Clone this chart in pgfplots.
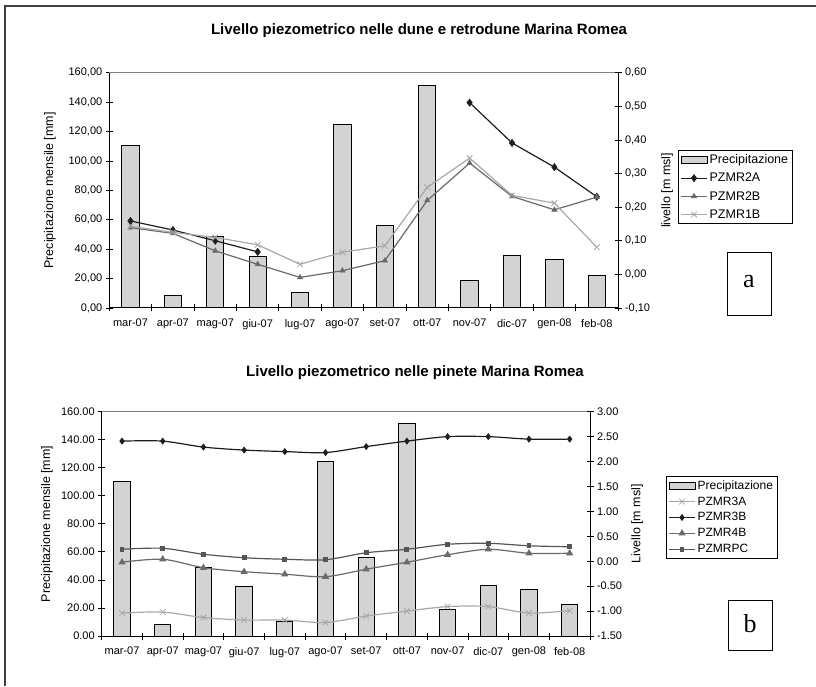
\documentclass[border=0pt]{standalone}
\usepackage{pgfplots}
\pgfplotsset{compat=1.18}
\usepackage{pgfplotstable}
\usepackage{fontspec}
\setmainfont{Liberation Sans}
\newfontfamily\serifletter{Liberation Serif}

\definecolor{barfill}{HTML}{D3D3D3}
\definecolor{lgray}{HTML}{A8A8A8}
\definecolor{mgray}{HTML}{6A6A6A}
\definecolor{dgray}{HTML}{1E1E1E}
\definecolor{pcgray}{HTML}{555555}

\pgfplotstableread{
x prec a2A a2B a1B
0 110.2 0.159 0.139 0.143
1 8.4 0.132 0.122 0.125
2 48.7 0.100 0.070 0.110
3 35.1 0.067 0.030 0.088
4 10.2 nan -0.009 0.030
5 124.5 nan 0.011 0.066
6 55.9 nan 0.041 0.085
7 151.6 nan 0.220 0.259
8 19.0 0.511 0.331 0.346
9 36.0 0.391 0.232 0.235
10 33.3 0.319 0.192 0.212
11 22.4 0.231 0.230 0.081
}\topdata

\pgfplotstableread{
x prec b3A b3B b4B bPC
0 110.2 -1.04 2.41 -0.02 0.24
1 8.4 -1.02 2.41 0.04 0.26
2 48.7 -1.13 2.29 -0.13 0.14
3 35.1 -1.18 2.23 -0.21 0.07
4 10.2 -1.18 2.20 -0.26 0.04
5 124.5 -1.23 2.18 -0.31 0.03
6 55.9 -1.10 2.30 -0.16 0.17
7 151.6 -1.00 2.41 -0.02 0.24
8 19.0 -0.91 2.50 0.13 0.34
9 36.0 -0.91 2.50 0.24 0.36
10 33.3 -1.04 2.45 0.16 0.31
11 22.4 -0.99 2.45 0.16 0.29
}\botdata

\pgfplotsset{
  base/.style={scale only axis, xmin=-0.5, xmax=11.5, clip=false,
    tick align=center, major tick length=7pt, minor tick length=7pt,
    tick style={black, line width=0.8pt},
    axis line style={black, line width=1pt},
    ticklabel style={font=\fontsize{11}{13}\selectfont},
    label style={font=\fontsize{12.5}{14}\selectfont},
    /pgf/number format/assume math mode=true},
  prim/.style={base, axis x line*=bottom, axis y line*=left,
    xtick={0,...,11},
    xticklabels={mar-07,apr-07,mag-07,giu-07,lug-07,ago-07,set-07,ott-07,nov-07,dic-07,gen-08,feb-08},
    xticklabel style={yshift=-4pt},
    major x tick style={draw=none},
    minor xtick={-0.5,0.5,...,11.5}},
  sec/.style={base, axis x line=none, axis y line*=right, unbounded coords=jump,
    legend cell align=left,
    legend image code/.code={\draw[mark repeat=2,mark phase=2] plot coordinates {(0pt,0pt) (13pt,0pt) (26pt,0pt)};}},
  barleg/.style={legend image code/.code={\draw[fill=barfill, draw=black, line width=1pt] (0pt,-3.5pt) rectangle (26pt,3.5pt);}},
}

\begin{document}
\begin{tikzpicture}
\useasboundingbox (0,0) rectangle (816pt,686pt);
\draw[line width=2pt, black!75] (5pt,0pt) -- (5pt,680pt) -- (816pt,680pt);

% ---------------- top chart ----------------
\node[font=\bfseries\fontsize{15}{17}\selectfont] at (419pt,655pt) {Livello piezometrico nelle dune e retrodune Marina Romea};

\begin{axis}[prim, at={(109.3pt,378pt)}, anchor=south west, width=508.7pt, height=235.3pt,
  ymin=0, ymax=160, ytick={0,20,...,160},
  yticklabel style={/pgf/number format/.cd, fixed, fixed zerofill, precision=2, use comma},
  ylabel={Precipitazione mensile [mm]},
  ylabel style={at={(axis description cs:-0.1166,0.5)}, anchor=center}]
  \addplot[ybar, bar width=17.3pt, fill=barfill, draw=black, line width=1pt] table[x=x,y=prec]{\topdata};
  \draw[gray, line width=0.8pt] (axis cs:-0.5,160) -- (axis cs:11.5,160);
\end{axis}

\begin{axis}[sec, at={(109.3pt,378pt)}, anchor=south west, width=508.7pt, height=235.3pt,
  ymin=-0.1, ymax=0.6, ytick={-0.1,0,0.1,0.2,0.3,0.4,0.5,0.6},
  yticklabel style={/pgf/number format/.cd, fixed, fixed zerofill, precision=2, use comma},
  ylabel={livello [m msl]},
  ylabel style={at={(axis description cs:1.0964,0.5)}, anchor=center},
  legend style={at={(axis description cs:1.118,0.671)}, anchor=north west, draw=black, line width=0.8pt,
    font=\fontsize{12.5}{14}\selectfont, row sep=4pt, inner sep=2pt}]
  \addlegendimage{barleg}
  \addlegendentry{Precipitazione}
  \addplot[dgray, line width=1.2pt, mark=diamond*, mark size=3.6pt, mark options={fill=dgray, line width=0.6pt}] table[x=x,y=a2A]{\topdata};
  \addlegendentry{PZMR2A}
  \addplot[mgray, line width=1.2pt, mark=triangle*, mark size=3pt, mark options={fill=mgray, line width=0.6pt}] table[x=x,y=a2B]{\topdata};
  \addlegendentry{PZMR2B}
  \addplot[lgray, line width=1.2pt, mark=x, mark size=4pt, mark options={line width=0.8pt}] table[x=x,y=a1B]{\topdata};
  \addlegendentry{PZMR1B}
\end{axis}

\draw[line width=0.8pt] (727pt,371pt) rectangle (771pt,434pt);
\node[font=\serifletter\fontsize{26}{26}\selectfont] at (749pt,404pt) {a};

% ---------------- bottom chart ----------------
\node[font=\bfseries\fontsize{15}{17}\selectfont] at (415pt,313pt) {Livello piezometrico nelle pinete Marina Romea};

\begin{axis}[prim, at={(101.7pt,50pt)}, anchor=south west, width=488.3pt, height=224.3pt,
  ymin=0, ymax=160, ytick={0,20,...,160},
  yticklabel style={/pgf/number format/.cd, fixed, fixed zerofill, precision=2},
  ylabel={Precipitazione mensile [mm]},
  ylabel style={at={(axis description cs:-0.112,0.5)}, anchor=center}]
  \addplot[ybar, bar width=16.3pt, fill=barfill, draw=black, line width=1pt] table[x=x,y=prec]{\botdata};
  \draw[gray, line width=0.8pt] (axis cs:-0.5,160) -- (axis cs:11.5,160);
\end{axis}

\begin{axis}[sec, at={(101.7pt,50pt)}, anchor=south west, width=488.3pt, height=224.3pt,
  ymin=-1.5, ymax=3, ytick={-1.5,-1,-0.5,0,0.5,1,1.5,2,2.5,3},
  yticklabel style={/pgf/number format/.cd, fixed, fixed zerofill, precision=2},
  ylabel={Livello [m msl]},
  ylabel style={at={(axis description cs:1.0963,0.5)}, anchor=center},
  legend style={at={(axis description cs:1.1557,0.713)}, anchor=north west, draw=black, line width=0.8pt,
    font=\fontsize{12}{14}\selectfont, row sep=2pt, inner sep=2pt}]
  \addlegendimage{barleg}
  \addlegendentry{Precipitazione}
  \addplot[lgray, line width=1.2pt, smooth, mark=x, mark size=4pt, mark options={line width=0.8pt}] table[x=x,y=b3A]{\botdata};
  \addlegendentry{PZMR3A}
  \addplot[dgray, line width=1.2pt, smooth, mark=diamond*, mark size=2.6pt, mark options={fill=dgray}] table[x=x,y=b3B]{\botdata};
  \addlegendentry{PZMR3B}
  \addplot[mgray, line width=1.2pt, smooth, mark=triangle*, mark size=3pt, mark options={fill=mgray}] table[x=x,y=b4B]{\botdata};
  \addlegendentry{PZMR4B}
  \addplot[pcgray, line width=1.2pt, smooth, mark=square*, mark size=1.8pt, mark options={fill=pcgray}] table[x=x,y=bPC]{\botdata};
  \addlegendentry{PZMRPC}
\end{axis}

\draw[line width=0.8pt] (728pt,36pt) rectangle (772pt,86pt);
\node[font=\serifletter\fontsize{26}{26}\selectfont] at (750pt,62pt) {b};
\end{tikzpicture}
\end{document}
